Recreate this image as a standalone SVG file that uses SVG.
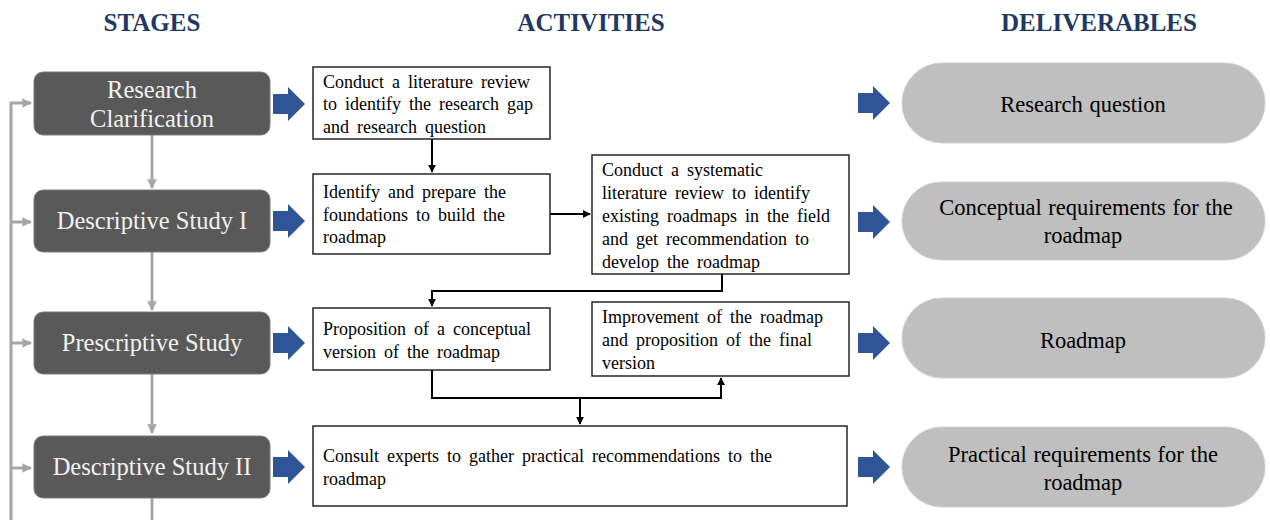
<svg xmlns="http://www.w3.org/2000/svg" width="1270" height="520" viewBox="0 0 1270 520">
<defs>
<style>
.hd{font-family:"Liberation Serif",serif;font-weight:bold;font-size:25px;fill:#1f3864;text-anchor:middle}
.stage{fill:#595959;stroke:#7f7f7f;stroke-width:1}
.st{font-family:"Liberation Serif",serif;font-size:24.5px;fill:#f2f2f2;text-anchor:middle}
.act{fill:#fff;stroke:#262626;stroke-width:1.5}
.at{font-family:"Liberation Serif",serif;font-size:18px;fill:#000;word-spacing:3.5px}
.del{fill:#bfbfbf;stroke:#d0d0d0;stroke-width:1}
.dt{font-family:"Liberation Serif",serif;font-size:22.5px;fill:#000;text-anchor:middle;word-spacing:1px}
.blue{fill:#2f5597}
.g{fill:none;stroke:#a6a6a6;stroke-width:3}
.k{fill:none;stroke:#000;stroke-width:2}
</style>
<marker id="ga" viewBox="0 0 10 10" refX="9" refY="5" markerWidth="3.2" markerHeight="3.2" orient="auto" markerUnits="strokeWidth"><path d="M0,0L10,5L0,10z" fill="#a6a6a6"/></marker>
<marker id="ka" viewBox="0 0 10 10" refX="9" refY="5" markerWidth="4" markerHeight="4" orient="auto" markerUnits="strokeWidth"><path d="M0,0L10,5L0,10z" fill="#000"/></marker>
<path id="ba" d="M0,-10H15V-17L32,0L15,17V10H0Z"/>
</defs>
<rect width="1270" height="520" fill="#fff"/>

<g id="headings">
<text class="hd" x="152" y="31">STAGES</text>
<text class="hd" x="591" y="31">ACTIVITIES</text>
<text class="hd" x="1099" y="31">DELIVERABLES</text>
</g>

<g id="connectors">
<path class="g" d="M11,520V103H31" marker-end="url(#ga)"/>
<path class="g" d="M11,222H31" marker-end="url(#ga)"/>
<path class="g" d="M11,343H31" marker-end="url(#ga)"/>
<path class="g" d="M11,468H31" marker-end="url(#ga)"/>
<path class="g" d="M152,135V188" marker-end="url(#ga)"/>
<path class="g" d="M152,252V310" marker-end="url(#ga)"/>
<path class="g" d="M152,374V433" marker-end="url(#ga)"/>
<path class="g" d="M152,498V520"/>
<path class="k" d="M432,139V172" marker-end="url(#ka)"/>
<path class="k" d="M550,214H590" marker-end="url(#ka)"/>
<path class="k" d="M722,274V291H432V306" marker-end="url(#ka)"/>
<path class="k" d="M432,370V398H721V378" marker-end="url(#ka)"/>
<path class="k" d="M580,398V424" marker-end="url(#ka)"/>
<use href="#ba" class="blue" x="273" y="104"/>
<use href="#ba" class="blue" x="273" y="221"/>
<use href="#ba" class="blue" x="273" y="343"/>
<use href="#ba" class="blue" x="273" y="467"/>
<use href="#ba" class="blue" x="858" y="103"/>
<use href="#ba" class="blue" x="858" y="222"/>
<use href="#ba" class="blue" x="858" y="343"/>
<use href="#ba" class="blue" x="858" y="467"/>
</g>

<g id="stage-rc">
<rect class="stage" x="34" y="72" width="236" height="63" rx="9"/>
<text class="st" x="152" y="98">Research</text>
<text class="st" x="152" y="127">Clarification</text>
</g>
<g id="stage-ds1">
<rect class="stage" x="34" y="190" width="236" height="62" rx="9"/>
<text class="st" x="152" y="229">Descriptive Study I</text>
</g>
<g id="stage-ps">
<rect class="stage" x="34" y="312" width="236" height="62" rx="9"/>
<text class="st" x="152" y="351">Prescriptive Study</text>
</g>
<g id="stage-ds2">
<rect class="stage" x="34" y="436" width="236" height="62" rx="9"/>
<text class="st" x="152" y="475">Descriptive Study II</text>
</g>

<g id="act-1">
<rect class="act" x="313" y="67" width="237" height="72"/>
<text class="at" x="323" y="88">Conduct a literature review</text>
<text class="at" x="323" y="110">to identify the research gap</text>
<text class="at" x="323" y="133">and research question</text>
</g>
<g id="act-2">
<rect class="act" x="313" y="174" width="237" height="80"/>
<text class="at" x="323" y="198">Identify and prepare the</text>
<text class="at" x="323" y="221">foundations to build the</text>
<text class="at" x="323" y="243">roadmap</text>
</g>
<g id="act-3">
<rect class="act" x="592" y="155" width="257" height="119"/>
<text class="at" x="602" y="176">Conduct a systematic</text>
<text class="at" x="602" y="199">literature review to identify</text>
<text class="at" x="602" y="222">existing roadmaps in the field</text>
<text class="at" x="602" y="245">and get recommendation to</text>
<text class="at" x="602" y="268">develop the roadmap</text>
</g>
<g id="act-4">
<rect class="act" x="313" y="308" width="237" height="62"/>
<text class="at" x="323" y="335">Proposition of a conceptual</text>
<text class="at" x="323" y="358">version of the roadmap</text>
</g>
<g id="act-5">
<rect class="act" x="592" y="302" width="257" height="74"/>
<text class="at" x="602" y="323">Improvement of the roadmap</text>
<text class="at" x="602" y="346">and proposition of the final</text>
<text class="at" x="602" y="369">version</text>
</g>
<g id="act-6">
<rect class="act" x="313" y="426" width="534" height="80"/>
<text class="at" x="323" y="462">Consult experts to gather practical recommendations to the</text>
<text class="at" x="323" y="485">roadmap</text>
</g>

<g id="del-1">
<rect class="del" x="902" y="63" width="363" height="80" rx="40"/>
<text class="dt" x="1083" y="112">Research question</text>
</g>
<g id="del-2">
<rect class="del" x="902" y="182" width="363" height="78" rx="39"/>
<text class="dt" x="1086" y="215">Conceptual requirements for the</text>
<text class="dt" x="1083" y="243">roadmap</text>
</g>
<g id="del-3">
<rect class="del" x="902" y="298" width="363" height="80" rx="40"/>
<text class="dt" x="1083" y="348">Roadmap</text>
</g>
<g id="del-4">
<rect class="del" x="902" y="427" width="363" height="80" rx="40"/>
<text class="dt" x="1083" y="462">Practical requirements for the</text>
<text class="dt" x="1083" y="490">roadmap</text>
</g>
</svg>
